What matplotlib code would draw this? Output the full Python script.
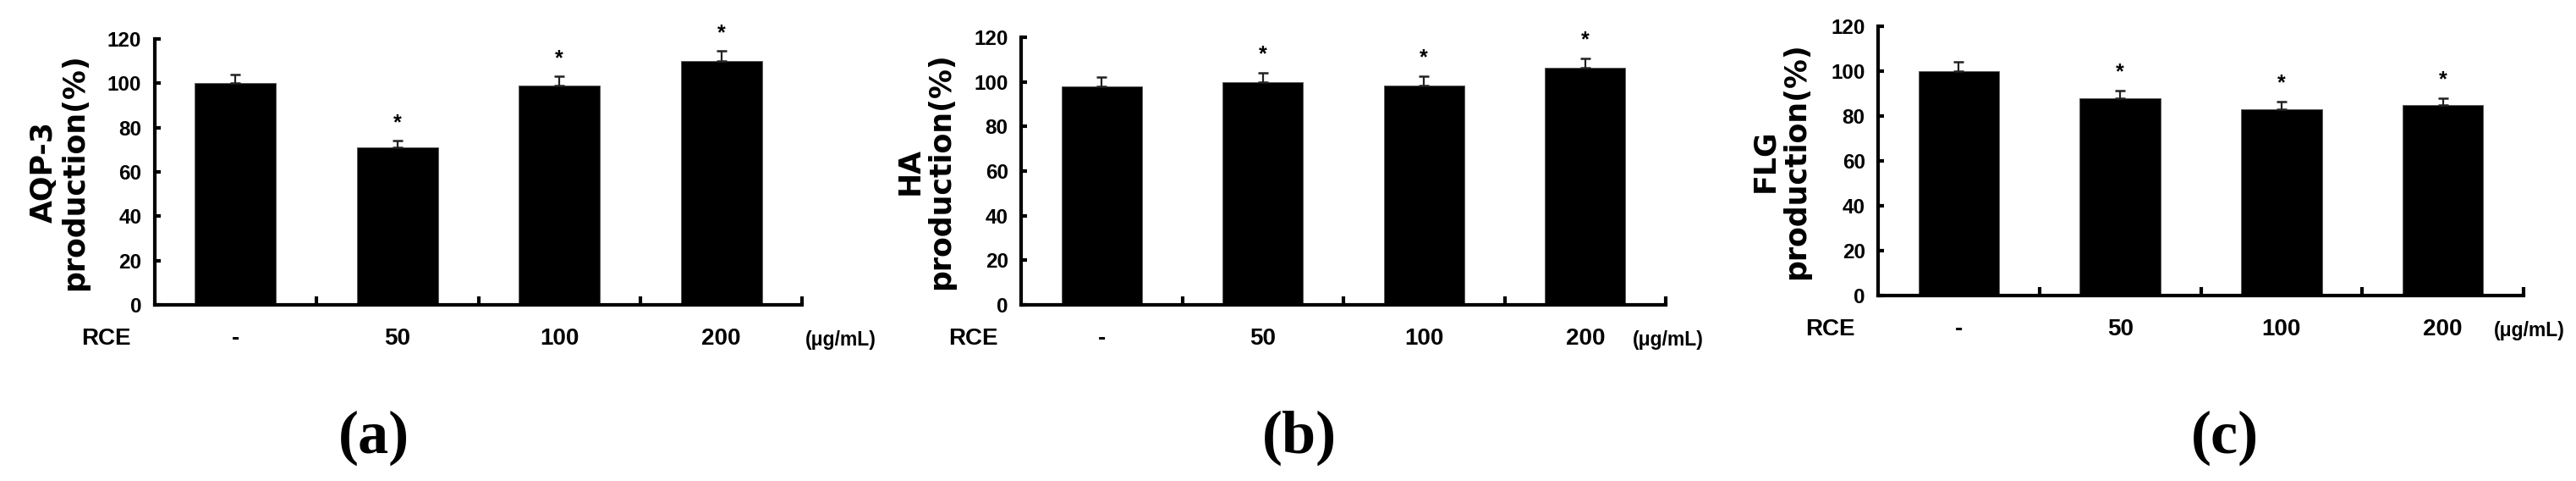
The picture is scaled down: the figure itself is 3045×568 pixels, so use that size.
import matplotlib.pyplot as plt
import numpy as np

# RCE concentrations (x categories)
doses = ['-', '50', '100', '200']

# production (% of control), upper SD and significance marks, per panel
aqp3_vals = [100, 71, 99, 110]
aqp3_err = [4, 3, 4, 4.5]
aqp3_sig = [False, True, True, True]

ha_vals = [98, 100, 98.5, 106.5]
ha_err = [4, 4, 4, 4]
ha_sig = [False, True, True, True]

flg_vals = [100, 88, 83, 85]
flg_err = [4, 3.5, 3.5, 3]
flg_sig = [False, True, True, True]

ylabels = ['AQP-3\nproduction(%)', 'HA\nproduction(%)', 'FLG\nproduction(%)']
panel_tags = ['(a)', '(b)', '(c)']

W, H = 3045, 568
fig = plt.figure(figsize=(W / 100, H / 100), dpi=100)

# axes boxes in pixels: left, right, y of 120, y of 0
boxes = [(182.5, 948.5, 46, 360), (1207, 1969, 44, 360), (2220, 2983, 31, 349)]
unit_x = [1.005, 0.949, 0.954]
label_x = [-0.101, -0.102, -0.105]
tag_x = [442, 1536, 2630]

panels = [(aqp3_vals, aqp3_err, aqp3_sig), (ha_vals, ha_err, ha_sig), (flg_vals, flg_err, flg_sig)]

sans = 'Liberation Sans'

for i, (vals, errs, sig) in enumerate(panels):
    l, r, top, bot = boxes[i]
    ax = fig.add_axes([l / W, 1 - bot / H, (r - l) / W, (bot - top) / H])
    x = np.arange(len(doses))

    ax.bar(x, vals, width=0.5, color='black', edgecolor='#555555', linewidth=0.6, zorder=2)
    ax.errorbar(x, vals, yerr=[np.zeros(len(vals)), errs], fmt='none', ecolor='#222222',
                elinewidth=1.6, capsize=4, capthick=1.8, zorder=3)

    for xi, v, e, s in zip(x, vals, errs, sig):
        if s:
            ax.text(xi, v + e + 5.5, '*', ha='center', va='baseline', fontsize=18,
                    fontweight='bold', family=sans, clip_on=False)

    ax.set_xlim(-0.5, 3.5)
    ax.set_ylim(0, 120)
    ax.set_yticks(range(0, 121, 20))
    ax.set_xticks(x)
    ax.set_xticklabels(doses)
    ax.set_xticks([0.5, 1.5, 2.5, 3.5], minor=True)

    for sp in ['top', 'right']:
        ax.spines[sp].set_visible(False)
    for sp in ['left', 'bottom']:
        ax.spines[sp].set_linewidth(3)

    ax.tick_params(axis='y', direction='in', length=5, width=3, pad=11, labelsize=17.5)
    ax.tick_params(axis='x', which='major', length=0, pad=29, labelsize=20)
    ax.tick_params(axis='x', which='minor', direction='in', length=7, width=3)
    for lab in ax.get_xticklabels():
        lab.set_fontweight('bold')
        lab.set_family(sans)
        lab.set_va('center')
    for lab in ax.get_yticklabels():
        lab.set_fontweight('bold')
        lab.set_family(sans)

    ax.set_ylabel(ylabels[i], fontsize=25, fontweight='bold', family='DejaVu Sans',
                  linespacing=1.1, multialignment='center')
    ax.yaxis.set_label_coords(label_x[i], 0.5)

    ax.annotate('RCE', xy=(-0.074, 0), xycoords='axes fraction', xytext=(0, -29),
                textcoords='offset points', ha='center', va='center', fontsize=20,
                fontweight='bold', family=sans)
    ax.annotate('(\u03bcg/mL)', xy=(unit_x[i], 0), xycoords='axes fraction', xytext=(0, -30),
                textcoords='offset points', ha='left', va='center', fontsize=16.5,
                fontweight='bold', family=sans)

    fig.text(tag_x[i] / W, 1 - 517 / H, panel_tags[i], ha='center', va='center',
             fontsize=52, fontweight='bold', family='Liberation Serif')

fig.savefig('out.png', dpi=100, facecolor='white')
